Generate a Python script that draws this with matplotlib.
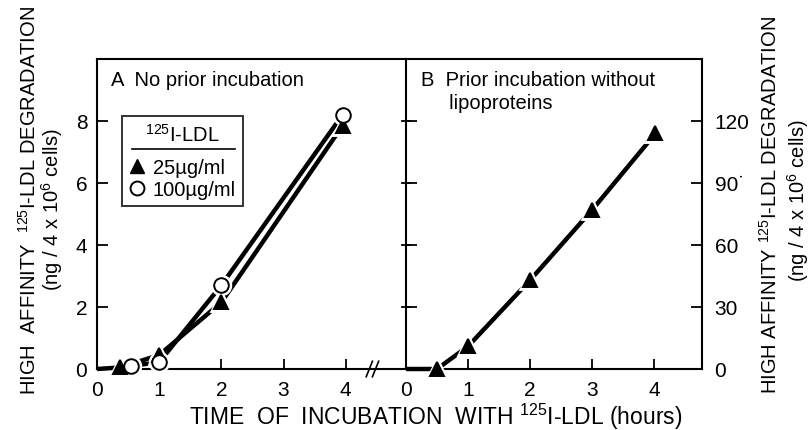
import matplotlib.pyplot as plt
from matplotlib.lines import Line2D
from matplotlib.transforms import blended_transform_factory

plt.rcParams['font.family'] = ['Liberation Sans', 'DejaVu Sans']
plt.rcParams['mathtext.fontset'] = 'custom'
plt.rcParams['mathtext.rm'] = 'Liberation Sans'
plt.rcParams['mathtext.it'] = 'Liberation Sans:italic'

# panel A: no prior incubation (left axis, ng)
a_low_x = [0, 0.37, 1, 2, 3.95]
a_low_y = [0, 0.05, 0.45, 2.15, 7.85]
a_high_x = [0.55, 1, 2, 3.95]
a_high_y = [0.1, 0.22, 2.7, 8.2]

# panel B: prior incubation without lipoproteins (right axis, ng)
b_x = [0, 0.5, 1, 2, 3, 4.02]
b_y = [0, 0, 11, 43, 77, 114]

left_ticks = [0, 2, 4, 6, 8]
right_ticks = [0, 30, 60, 90, 120]
right_labels = ['0', '30', '60', '90˙', '120']
x_ticks = [0, 1, 2, 3, 4]

fig = plt.figure(figsize=(8.11, 4.31), dpi=100)
axA = fig.add_axes([97/811, 61/431, 309/811, 310/431])
axB = fig.add_axes([406/811, 61/431, 296/811, 310/431])

lw = 3.2


def draw(ax, x, y, marker, face, skip_first=False):
    ax.plot(x, y, color='black', lw=lw, solid_capstyle='butt', zorder=2, clip_on=False)
    mx = x[1:] if skip_first else x
    my = y[1:] if skip_first else y
    ax.plot(mx, my, ls='none', marker=marker, ms=12, mfc='white', mec='white',
            mew=3.5, zorder=3, clip_on=False)
    ax.plot(mx, my, ls='none', marker=marker, ms=10.5, mfc=face, mec='black',
            mew=1.4, zorder=4, clip_on=False)


draw(axA, a_low_x, a_low_y, '^', 'black', skip_first=True)
draw(axA, a_high_x, a_high_y, 'o', 'white')
draw(axB, b_x, b_y, '^', 'black', skip_first=True)

axA.set_xlim(0, 4.97)
axA.set_ylim(0, 10)
axB.set_xlim(0, 4.77)
axB.set_ylim(0, 150)

for ax in (axA, axB):
    for s in ax.spines.values():
        s.set_linewidth(1.5)
    ax.set_xticks(x_ticks)
    ax.tick_params(axis='x', direction='in', length=7, width=1.3, labelsize=15, pad=8)

axA.spines['right'].set_visible(False)
axA.set_yticks(left_ticks)
axA.tick_params(axis='y', direction='in', length=8, width=1.3, labelsize=15, pad=7)

axB.yaxis.tick_right()
axB.set_yticks(right_ticks)
axB.set_yticklabels(right_labels)
axB.tick_params(axis='y', which='both', direction='in', length=8, width=1.3,
                labelsize=15, pad=9, left=True, labelleft=False, right=True, labelright=True)
# ticks crossing the shared middle spine
for t in right_ticks[1:]:
    axB.plot([-0.07, 0.07], [t, t], color='black', lw=1.3, clip_on=False)

# axis break on panel A
tr = blended_transform_factory(axA.transData, axA.transAxes)
for dx in (0, 0.1):
    axA.plot([4.33 + dx, 4.43 + dx], [-0.025, 0.025], color='black', lw=1.2,
             transform=tr, clip_on=False)

axA.text(0.045, 0.965, 'A  No prior incubation', transform=axA.transAxes,
         fontsize=14.5, va='top')
axB.text(0.05, 0.965, 'B  Prior incubation without\n     lipoproteins', transform=axB.transAxes,
         fontsize=14.5, va='top', linespacing=1.3)

handles = [Line2D([], [], ls='none', marker='^', ms=10, mfc='black', mec='black'),
           Line2D([], [], ls='none', marker='o', ms=10, mfc='white', mec='black', mew=1.4)]
leg = axA.legend(handles, ['25µg/ml', '100µg/ml'], title='$^{125}$I-LDL',
                 loc='upper left', bbox_to_anchor=(0.08, 0.815), fontsize=14.5,
                 title_fontsize=14.5, frameon=True, fancybox=False, handlelength=0.8,
                 handletextpad=0.4, borderpad=0.35, labelspacing=0.15,
                 borderaxespad=0)
leg.get_frame().set_edgecolor('black')
leg.get_frame().set_linewidth(1.4)
leg._legend_box.sep = 9

fig.canvas.draw()
r = fig.canvas.get_renderer()
fb = leg.get_frame().get_window_extent(r)
tb = leg.get_title().get_window_extent(r)
inv = fig.transFigure.inverted()
(x0, y0), (x1, _) = inv.transform([(fb.x0 + 10, tb.y0 - 4), (fb.x1 - 8, tb.y0 - 4)])
fig.add_artist(Line2D([x0, x1], [y0, y0], color='black', lw=1.2))

fig.text(0.036, 0.534, 'HIGH  AFFINITY  $^{125}$I-LDL DEGRADATION', rotation=90,
         ha='center', va='center', fontsize=14.5)
fig.text(0.064, 0.513, '(ng / 4 x 10$^{6}$ cells)', rotation=90,
         ha='center', va='center', fontsize=14.5)
fig.text(0.949, 0.524, 'HIGH AFFINITY $^{125}$I-LDL DEGRADATION', rotation=90,
         ha='center', va='center', fontsize=14.5)
fig.text(0.984, 0.535, '(ng / 4 x 10$^{6}$ cells)', rotation=90,
         ha='center', va='center', fontsize=14.5)
fig.text(0.537, 0.014, 'TIME  OF  INCUBATION  WITH $^{125}$I-LDL (hours)',
         ha='center', va='baseline', fontsize=16.5)

fig.savefig('out.png', dpi=100)
